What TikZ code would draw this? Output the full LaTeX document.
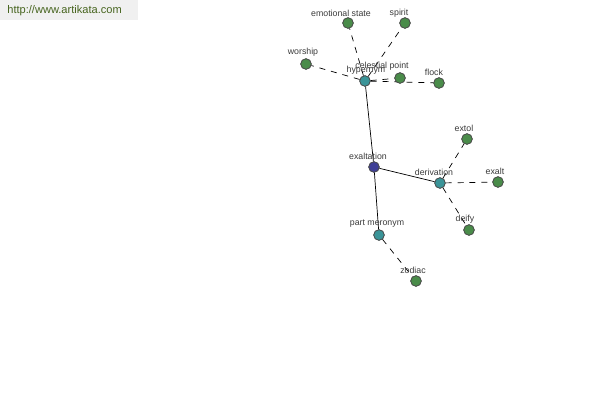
\documentclass[tikz,border=0pt]{standalone}
\usepackage{fontspec}
\setsansfont{Liberation Sans}
\definecolor{leafgreen}{RGB}{74,140,74}
\definecolor{midteal}{RGB}{58,148,152}
\definecolor{rootblue}{RGB}{64,64,150}
\definecolor{webgreen}{RGB}{70,100,30}
\definecolor{labelgray}{RGB}{60,60,60}
\tikzset{
  dot/.style={draw=black!70,circle,inner sep=0pt,minimum size=10.5*0.02cm},
  leaf/.style={dot,fill=leafgreen},
  hub/.style={dot,fill=midteal},
  root/.style={dot,fill=rootblue},
  tag/.style={text=labelgray,font=\sffamily\fontsize{5}{6}\selectfont,inner sep=0pt},
  link/.style={dashed,dash pattern=on 3.4pt off 3.4pt}
}
\begin{document}
\begin{tikzpicture}[x=0.02cm,y=-0.02cm]
        %% Frame
        \useasboundingbox[fill=white] (0,0) rectangle (600,400);
        \fill[black!6] (0,0) rectangle (138,20);
        \node[font=\sffamily\fontsize{6.3}{7}\selectfont,text=webgreen,anchor=west,inner sep=0pt] (site) at (7,11) {http://www.artikata.com};
        %% Nodes
        \node[root] (exaltation) at (374,167) {};
        \node[hub] (hypernym) at (365,81) {};
        \node[hub] (derivation) at (440,183) {};
        \node[hub] (meronym) at (379,235) {};
        \node[leaf] (emotional) at (348,23) {};
        \node[leaf] (spirit) at (405,23) {};
        \node[leaf] (worship) at (306,64) {};
        \node[leaf] (celestial) at (400,78) {};
        \node[leaf] (flock) at (439,83) {};
        \node[leaf] (extol) at (467,139) {};
        \node[leaf] (exalt) at (498,182) {};
        \node[leaf] (deify) at (469,230) {};
        \node[leaf] (zodiac) at (416,281) {};
        %% Links
        \draw (exaltation) -- (hypernym);
        \draw (exaltation) -- (derivation);
        \draw (exaltation) -- (meronym);
        \foreach \n in {emotional,spirit,worship,celestial,flock}
          \draw[link] (hypernym) -- (\n);
        \foreach \n in {extol,exalt,deify}
          \draw[link] (derivation) -- (\n);
        \draw[link] (meronym) -- (zodiac);
        %% Redraw nodes over links
        \foreach \n/\s in {exaltation/root,hypernym/hub,derivation/hub,meronym/hub,emotional/leaf,spirit/leaf,worship/leaf,celestial/leaf,flock/leaf,extol/leaf,exalt/leaf,deify/leaf,zodiac/leaf}
          \node[\s] at (\n) {};
        %% Labels
        \node[tag] (t-exaltation) at (368,156) {exaltation};
        \node[tag] (t-hypernym) at (366,70) {hypernym};
        \node[tag] (t-derivation) at (434,172) {derivation};
        \node[tag] (t-meronym) at (377,224) {part meronym};
        \node[tag] (t-emotional) at (341,13) {emotional state};
        \node[tag] (t-spirit) at (399,13) {spirit};
        \node[tag] (t-worship) at (303,52) {worship};
        \node[tag] (t-celestial) at (382,66) {celestial point};
        \node[tag] (t-flock) at (434,72) {flock};
        \node[tag] (t-extol) at (464,128) {extol};
        \node[tag] (t-exalt) at (495,171) {exalt};
        \node[tag] (t-deify) at (465,219) {deify};
        \node[tag] (t-zodiac) at (413,270) {zodiac};
\end{tikzpicture}
\end{document}
